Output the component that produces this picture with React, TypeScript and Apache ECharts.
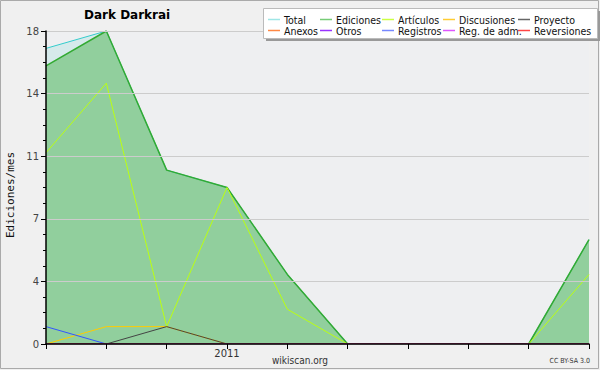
import React, { useEffect, useRef } from "react";
import * as echarts from "echarts";

const categories = ["2010-10", "2010-11", "2010-12", "2011-01", "2011-02", "2011-03", "2011-04", "2011-05", "2011-06", "2011-07"];
const xLabels = ["", "", "", "2011", "", "", "", "", "", ""];
const yTicks = [0, 3.6, 7.2, 10.8, 14.4, 18];

const total = [17, 18, 10, 9, 4, 0, 0, 0, 0, 6];
const ediciones = [16, 18, 10, 9, 4, 0, 0, 0, 0, 6];
const articulos = [11, 15, 1, 9, 2, 0, 0, 0, 0, 4];
const discusiones = [0, 1, 1, 0, 0, 0, 0, 0, 0, 0];
const proyecto = [0, 0, 1, 0, 0, 0, 0, 0, 0, 0];
const anexos = [0, 0, 0, 0, 0, 0, 0, 0, 0, 0];
const otros = [0, 0, 0, 0, 0, 0, 0, 0, 0, 0];
const registros = [1, 0, 0, 0, 0, 0, 0, 0, 0, 0];
const regAdm = [0, 0, 0, 0, 0, 0, 0, 0, 0, 0];
const reversiones = [0, 0, 0, 0, 0, 0, 0, 0, 0, 0];

const seriesDefs = [
  { name: "Total", data: total, line: "#33cccc", legend: "#9fe6e6", area: 0.13 },
  { name: "Ediciones", data: ediciones, line: "#33aa33", legend: "#77cc77", area: 0.42 },
  { name: "Artículos", data: articulos, line: "#bbff11", legend: "#ccff44" },
  { name: "Discusiones", data: discusiones, line: "#ffcc00", legend: "#ffcc33" },
  { name: "Proyecto", data: proyecto, line: "#444444", legend: "#666666" },
  { name: "Anexos", data: anexos, line: "#ff8833", legend: "#ff8844" },
  { name: "Otros", data: otros, line: "#8833ff", legend: "#9933ff" },
  { name: "Registros", data: registros, line: "#3355ff", legend: "#7788ff" },
  { name: "Reg. de adm.", data: regAdm, line: "#dd44ff", legend: "#dd55ff" },
  { name: "Reversiones", data: reversiones, line: "#ff3333", legend: "#ff4444" },
];

const legendCols = [268, 320, 382, 443, 518];

export default function App() {
  const ref = useRef<HTMLDivElement>(null);
  useEffect(() => {
    document.body.style.margin = "0";
    const chart = echarts.init(ref.current!, null, { renderer: "svg" });
    const font = "DejaVu Sans";
    const legendFont = "'DejaVu Sans Condensed', 'Liberation Sans Narrow', 'DejaVu Sans'";
    const legends = legendCols.map((left, c) => ({
      orient: "vertical",
      left,
      top: 14,
      z: 80,
      padding: 0,
      itemGap: 0,
      itemWidth: 12,
      itemHeight: 1.5,
      icon: "rect",
      selectedMode: false,
      textStyle: { fontFamily: legendFont, fontSize: 10.5, color: "#111", lineHeight: 10, padding: [0, 0, 0, -1] },
      data: [seriesDefs[c], seriesDefs[c + 5]].map((s) => ({
        name: s.name,
        itemStyle: { color: s.legend },
      })),
    }));
    chart.setOption({
      animation: false,
      backgroundColor: "#f0f0f0",
      title: {
        text: "Dark Darkrai",
        left: 84,
        top: 9,
        padding: 0,
        textStyle: { fontFamily: font, fontSize: 12, fontWeight: "bold", color: "#000" },
      },
      legend: legends,
      grid: {
        left: 46,
        right: 11,
        top: 31,
        bottom: 26,
        show: true,
        backgroundColor: "#eeeff1",
        borderWidth: 0,
      },
      graphic: [
        { type: "rect", z: -10, silent: true, shape: { x: 0.5, y: 0.5, width: 598, height: 368 }, style: { fill: "none", stroke: "#aaaaaa", lineWidth: 1 } },
        { type: "rect", z: 60, silent: true, shape: { x: 266, y: 11, width: 335, height: 30 }, style: { fill: "#999999" } },
        { type: "rect", z: 61, silent: true, shape: { x: 263.5, y: 8.5, width: 334, height: 30 }, style: { fill: "#ffffff", stroke: "#bbbbbb", lineWidth: 1 } },
        {
          type: "text", x: 10, y: 195, rotation: Math.PI / 2, silent: true,
          style: { text: "Ediciones/mes", fontFamily: "DejaVu Sans Mono", fontSize: 11, fill: "#111", align: "center", verticalAlign: "middle" },
        },
        {
          type: "text", x: 300, y: 360, silent: true,
          style: { text: "wikiscan.org", fontFamily: legendFont, fontSize: 10, fill: "#333", align: "center", verticalAlign: "middle" },
        },
        {
          type: "text", x: 590, y: 361, silent: true,
          style: { text: "CC BY-SA 3.0", fontFamily: legendFont, fontSize: 7, fill: "#333", align: "right", verticalAlign: "middle" },
        },
      ],
      xAxis: {
        type: "category",
        data: categories,
        boundaryGap: false,
        z: 50,
        axisLine: { lineStyle: { color: "#000", width: 1.5 } },
        axisTick: { show: true, interval: 0, length: 5, lineStyle: { color: "#000" } },
        axisLabel: {
          interval: 0,
          margin: 4,
          fontFamily: font,
          fontSize: 10,
          color: "#333",
          formatter: (_v: string, i: number) => xLabels[i],
        },
        splitLine: { show: false },
      },
      yAxis: {
        type: "value",
        min: 0,
        max: 18,
        interval: 3.6,
        z: 50,
        axisLine: { show: true, lineStyle: { color: "#000", width: 1.5 } },
        axisTick: { show: true, length: 5, lineStyle: { color: "#000" } },
        minorTick: { show: true, splitNumber: 4, length: 3, lineStyle: { color: "#000" } },
        axisLabel: {
          margin: 7,
          fontFamily: font,
          fontSize: 10,
          color: "#444",
          formatter: (v: number) => {
            const t = yTicks.find((y) => Math.abs(y - v) < 0.01);
            return String(Math.round(t ?? v));
          },
        },
        splitLine: { show: true, lineStyle: { color: "#cccccc", width: 1 } },
      },
      series: seriesDefs.map((s, i) => ({
        name: s.name,
        type: "line",
        data: s.data,
        symbol: "none",
        z: 2,
        lineStyle: { color: s.line, width: i === 1 ? 1.5 : 1 },
        itemStyle: { color: s.line },
        areaStyle: s.area ? { color: s.line, opacity: s.area } : undefined,
      })),
    });
    return () => chart.dispose();
  }, []);
  return <div ref={ref} style={{ width: 600, height: 370 }} />;
}
